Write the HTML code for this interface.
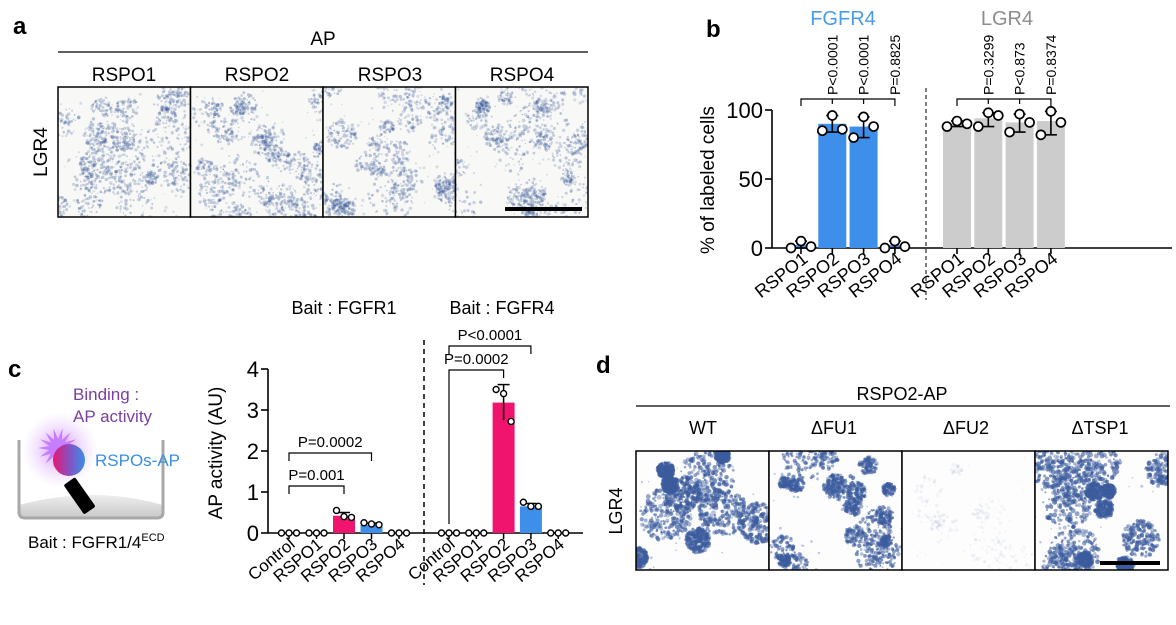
<!DOCTYPE html>
<html><head><meta charset="utf-8"><style>
body{margin:0;background:#fff;}
svg{display:block;font-family:"Liberation Sans",Arial,sans-serif;}
</style></head><body>
<svg id="fig" width="1176" height="625" viewBox="0 0 1176 625">
<defs>
<radialGradient id="glow" cx="0.5" cy="0.5" r="0.5"><stop offset="0" stop-color="#c77dff" stop-opacity="0.9"/><stop offset="1" stop-color="#e8c8ff" stop-opacity="0"/></radialGradient>
<linearGradient id="ball" x1="0" y1="0" x2="1" y2="0"><stop offset="0" stop-color="#e8176e"/><stop offset="0.5" stop-color="#8a4fc0"/><stop offset="1" stop-color="#3a8fe8"/></linearGradient>
<linearGradient id="ground" x1="0" y1="0" x2="0" y2="1"><stop offset="0" stop-color="#eee"/><stop offset="1" stop-color="#c8c8c8"/></linearGradient>
</defs>

<g font-weight="bold" font-size="24" fill="#000">
<text x="13" y="34">a</text>
<text x="706" y="37">b</text>
<text x="8" y="377">c</text>
<text x="596" y="373">d</text>
</g>

<g>
<text x="323" y="45" font-size="19" text-anchor="middle">AP</text>
<line x1="58" y1="52" x2="588" y2="52" stroke="#000" stroke-width="1.2"/>
<g font-size="19" text-anchor="middle">
<text x="124" y="81">RSPO1</text>
<text x="257" y="81">RSPO2</text>
<text x="390" y="81">RSPO3</text>
<text x="522" y="81">RSPO4</text>
</g>
<text transform="translate(47,152) rotate(-90)" font-size="19" text-anchor="middle">LGR4</text>
<g id="imgA"></g>
</g>

<g>
<text x="902" y="400" font-size="18" text-anchor="middle">RSPO2-AP</text>
<line x1="636" y1="406" x2="1170" y2="406" stroke="#000" stroke-width="1.2"/>
<g font-size="18" text-anchor="middle">
<text x="703" y="434">WT</text>
<text x="834" y="434">ΔFU1</text>
<text x="966" y="434">ΔFU2</text>
<text x="1100" y="434">ΔTSP1</text>
</g>
<text transform="translate(622,511) rotate(-90)" font-size="18" text-anchor="middle">LGR4</text>
<g id="imgD"></g>
</g>

<g id="chartB">
<text x="843" y="25" font-size="20" fill="#4a9be8" text-anchor="middle">FGFR4</text>
<text x="1007" y="25" font-size="20" fill="#8c8c8c" text-anchor="middle">LGR4</text>
<text transform="translate(714,180) rotate(-90)" font-size="19" text-anchor="middle">% of labeled cells</text>
</g>

<g>
<path d="M19,505 Q94,485 163,505 L163,512 Q163,518 157,518 L25,518 Q19,518 19,512 Z" fill="url(#ground)"/>
<path d="M19,440 L19,512 Q19,518 25,518 L157,518 Q163,518 163,512 L163,440" fill="none" stroke="#a8a8a8" stroke-width="3"/>
<circle cx="60" cy="450" r="38" fill="url(#glow)"/>
<polygon id="star" fill="#c77dff"/>
<rect x="72" y="478" width="14" height="36" rx="2" fill="#000" transform="rotate(-35 79 495)"/>
<circle cx="69" cy="460" r="16" fill="url(#ball)"/>
<text x="73" y="400" font-size="17" fill="#7b3f9e">Binding :</text>
<text x="73" y="422" font-size="17" fill="#7b3f9e">AP activity</text>
<text x="95" y="466" font-size="17" fill="#3a8fe0">RSPOs-AP</text>
<text x="28" y="548" font-size="17">Bait : FGFR1/4<tspan font-size="11" dy="-7">ECD</tspan></text>
</g>

<g id="chartC">
<text x="344" y="314" font-size="18" text-anchor="middle">Bait : FGFR1</text>
<text x="502" y="314" font-size="18" text-anchor="middle">Bait : FGFR4</text>
<text transform="translate(222,453) rotate(-90)" font-size="19" text-anchor="middle">AP activity (AU)</text>
</g>
</svg>
<script>
const bCategories = ['RSPO1','RSPO2','RSPO3','RSPO4'];
const bFgfr4Values = [2, 90, 88, 2];
const bFgfr4Points = [[0,5,1],[85,96,86],[80,95,88],[0,5,1]];
const bFgfr4Err = [[0,5],[84,96],[80,95],[0,5]];
const bLgr4Values = [90, 94, 91, 92];
const bLgr4Points = [[88,92,90],[88,98,96],[84,97,91],[82,99,91]];
const bLgr4Err = [[88,92],[88,98],[84,97],[82,99]];
const bFgfr4P = ['','P<0.0001','P<0.0001','P=0.8825'];
const bLgr4P = ['','P=0.3299','P<0.873','P=0.8374'];
const bTicks = [0, 50, 100];

const cCategories = ['Control','RSPO1','RSPO2','RSPO3','RSPO4'];
const cFgfr1Values = [0, 0, 0.42, 0.2, 0];
const cFgfr1Points = [[0,0,0],[0,0,0],[0.55,0.4,0.38],[0.25,0.22,0.2],[0,0,0]];
const cFgfr4Values = [0, 0, 3.18, 0.65, 0];
const cFgfr4Points = [[0,0,0],[0,0,0],[3.5,3.4,2.72],[0.75,0.65,0.65],[0,0,0]];
const cFgfr4Err = [[0,0],[0,0],[2.75,3.62],[0.58,0.72],[0,0]];
const cFgfr1Err = [[0,0],[0,0],[0.36,0.5],[0.18,0.24],[0,0]];
const cTicks = [0,1,2,3,4];
const cColors = ['#888','#888','#f0146e','#3d8fea','#888'];

const NS='http://www.w3.org/2000/svg';
function mk(parent,tag,attrs,txt){const e=document.createElementNS(NS,tag);for(const k in attrs)e.setAttribute(k,attrs[k]);if(txt!==undefined)e.textContent=txt;parent.appendChild(e);return e;}

const B=document.getElementById('chartB');
const bY=v=>248-v*1.38;
const bX1=i=>801+i*31.3, bX2=i=>957+i*31.3;
let ax=mk(B,'line',{x1:772,y1:248,x2:1172,y2:248,stroke:'#000','stroke-width':1.6});

ax=mk(B,'line',{x1:772,y1:bY(100),x2:772,y2:248,stroke:'#000','stroke-width':1.6});

bTicks.forEach(t=>{
  mk(B,'line',{x1:765,x2:772,y1:bY(t),y2:bY(t),stroke:'#000','stroke-width':1.6});
  const tl=mk(B,'text',{x:763,y:bY(t)+8,'font-size':22,'text-anchor':'end'},t);
  
});
const dl=mk(B,'line',{x1:926,y1:88,x2:926,y2:300,stroke:'#000','stroke-width':1,'stroke-dasharray':'4,3'});

function drawBGroup(vals,pts,err,xf,color,pl,grp){
  vals.forEach((v,i)=>{
    const cx=xf(i);
    const r=mk(B,'rect',{x:cx-14,y:bY(v),width:28,height:248-bY(v),fill:color});
    
    
    mk(B,'line',{x1:cx,x2:cx,y1:bY(err[i][0]),y2:bY(err[i][1]),stroke:'#000','stroke-width':1.6});
    mk(B,'line',{x1:cx-6,x2:cx+6,y1:bY(err[i][1]),y2:bY(err[i][1]),stroke:'#000','stroke-width':1.6});
    mk(B,'line',{x1:cx-6,x2:cx+6,y1:bY(err[i][0]),y2:bY(err[i][0]),stroke:'#000','stroke-width':1.6});
    mk(B,'line',{x1:cx,x2:cx,y1:248,y2:254,stroke:'#000','stroke-width':1.6});
    pts[i].forEach((p,j)=>{
      const c=mk(B,'circle',{cx:cx+(j-1)*10,cy:bY(p),r:4.5,fill:'#fff',stroke:'#000','stroke-width':1.7});
      
    });
    const lab=mk(B,'text',{transform:`translate(${cx+8},${261}) rotate(-38)`,'font-size':18,'text-anchor':'end'},bCategories[i]);
    
    if(pl[i]){
      const t=mk(B,'text',{transform:`translate(${cx+5},95) rotate(-90)`,'font-size':14},pl[i]);
      
    }
  });
  const x0=xf(0),x3=xf(3);
  mk(B,'path',{d:`M${x0},106 L${x0},99 L${x3},99 L${x3},106`,fill:'none',stroke:'#000','stroke-width':1.2});
  for(let i=1;i<3;i++)mk(B,'line',{x1:xf(i),x2:xf(i),y1:99,y2:104,stroke:'#000','stroke-width':1.2});
}
drawBGroup(bFgfr4Values,bFgfr4Points,bFgfr4Err,bX1,'#3d8fea',bFgfr4P,'fgfr4');
drawBGroup(bLgr4Values,bLgr4Points,bLgr4Err,bX2,'#cccccc',bLgr4P,'lgr4');

const C=document.getElementById('chartC');
const cY=v=>533-v*41;
const cX1=i=>289+i*27.5, cX2=i=>449+i*27.3;
ax=mk(C,'line',{x1:268,y1:533,x2:583,y2:533,stroke:'#000','stroke-width':1.6});

ax=mk(C,'line',{x1:268,y1:cY(4),x2:268,y2:533,stroke:'#000','stroke-width':1.6});

cTicks.forEach(t=>{
  mk(C,'line',{x1:261,x2:268,y1:cY(t),y2:cY(t),stroke:'#000','stroke-width':1.6});
  const tl=mk(C,'text',{x:259,y:cY(t)+8,'font-size':22,'text-anchor':'end'},t);
  
});
const dc=mk(C,'line',{x1:424,y1:340,x2:424,y2:585,stroke:'#000','stroke-width':1.5,'stroke-dasharray':'5,4'});

function drawCGroup(vals,pts,err,xf,grp){
  vals.forEach((v,i)=>{
    const cx=xf(i);
    const r=mk(C,'rect',{x:cx-11,y:cY(v),width:22,height:533-cY(v),fill:cColors[i]});
    
    
    if(err[i][1]>err[i][0]){
      mk(C,'line',{x1:cx,x2:cx,y1:cY(err[i][0]),y2:cY(err[i][1]),stroke:'#000','stroke-width':1.5});
      mk(C,'line',{x1:cx-6,x2:cx+6,y1:cY(err[i][1]),y2:cY(err[i][1]),stroke:'#000','stroke-width':1.5});
    }
    mk(C,'line',{x1:cx,x2:cx,y1:533,y2:539,stroke:'#000','stroke-width':1.5});
    pts[i].forEach((p,j)=>{
      const c=mk(C,'circle',{cx:cx+(j-1)*7.5,cy:cY(p),r:3,fill:'#fff',stroke:'#000','stroke-width':1.4});
      
    });
    const lab=mk(C,'text',{transform:`translate(${cx+7},${546}) rotate(-40)`,'font-size':17,'text-anchor':'end'},cCategories[i]);
    
  });
}
drawCGroup(cFgfr1Values,cFgfr1Points,cFgfr1Err,cX1,'fgfr1');
drawCGroup(cFgfr4Values,cFgfr4Points,cFgfr4Err,cX2,'fgfr4');
function bracket(x1,x2,y,l1,l2,label){
  mk(C,'path',{d:`M${x1},${y+l1} L${x1},${y} L${x2},${y} L${x2},${y+l2}`,fill:'none',stroke:'#000','stroke-width':1.2});
  const t=mk(C,'text',{x:(x1+x2)/2,y:y-6,'font-size':15,'text-anchor':'middle'},label);
  
}
bracket(cX1(0),cX1(2),486,8,8,'P=0.001');
bracket(cX1(0),cX1(3),453,8,8,'P=0.0002');
bracket(cX2(0),cX2(2),370,154,8,'P=0.0002');
bracket(cX2(0),cX2(3),346,8,8,'P<0.0001');

(function(){let s='';const cx=58,cy=448;for(let k=0;k<28;k++){const a=k*Math.PI/14;const r=k%2?9:20;s+=(cx+r*Math.cos(a)).toFixed(1)+','+(cy+r*Math.sin(a)).toFixed(1)+' ';}document.getElementById('star').setAttribute('points',s);})();

let seed=7;function rnd(){seed=(seed*16807)%2147483647;return seed/2147483647;}
function micro(gid,x0,y0,w,h,n,bg,dens,col,name){
  const g=document.getElementById(gid);
  for(let k=0;k<n;k++){
    const x=x0+k*w;
    const grp=mk(g,'g',{});
    
    
    mk(grp,'rect',{x:x,y:y0,width:w,height:h,fill:bg});
    const cl=mk(grp,'clipPath',{id:gid+'c'+k});mk(cl,'rect',{x:x,y:y0,width:w,height:h});
    const inner=mk(grp,'g',{'clip-path':`url(#${gid}c${k})`});
    const d=dens[k];
    const blobs=[];for(let b=0;b<d.clusters;b++)blobs.push([x+rnd()*w,y0+rnd()*h,6+rnd()*d.size]);
    blobs.forEach(b=>{for(let q=0;q<d.per;q++){const a=rnd()*6.283,rr=Math.sqrt(rnd())*b[2];
      mk(inner,'circle',{cx:b[0]+rr*Math.cos(a),cy:b[1]+rr*Math.sin(a),r:d.r*(0.5+rnd()*0.8),fill:col,'fill-opacity':d.op*(0.5+rnd()*0.5)});}});
    for(let q=0;q<d.dots;q++)mk(inner,'circle',{cx:x+rnd()*w,cy:y0+rnd()*h,r:0.6+rnd()*1,fill:col,'fill-opacity':d.op*0.5});
    mk(grp,'rect',{x:x,y:y0,width:w,height:h,fill:'none',stroke:'#000','stroke-width':1.5});
  }
}
const aD=[0,1,2,3].map(()=>({clusters:28,size:15,per:45,dots:70,op:0.35,r:1.4}));
micro('imgA',58,87,132.5,130,4,'#f8f8f6',aD,'#3a5a9a','micrograph-a');
const dD=[{clusters:10,size:26,per:230,dots:20,op:0.7,r:1.9},{clusters:20,size:15,per:90,dots:25,op:0.7,r:1.7},{clusters:10,size:18,per:25,dots:30,op:0.08,r:1.5},{clusters:13,size:22,per:180,dots:25,op:0.7,r:1.9}];
micro('imgD',636,451,133,119,4,'#fdfdfd',dD,'#3c5c9e','micrograph-d');
const sa=mk(document.getElementById('fig'),'line',{x1:505,x2:582,y1:209,y2:209,stroke:'#000','stroke-width':4});

const sd=mk(document.getElementById('fig'),'line',{x1:1100,x2:1160,y1:563,y2:563,stroke:'#000','stroke-width':4});

</script>
</body></html>
